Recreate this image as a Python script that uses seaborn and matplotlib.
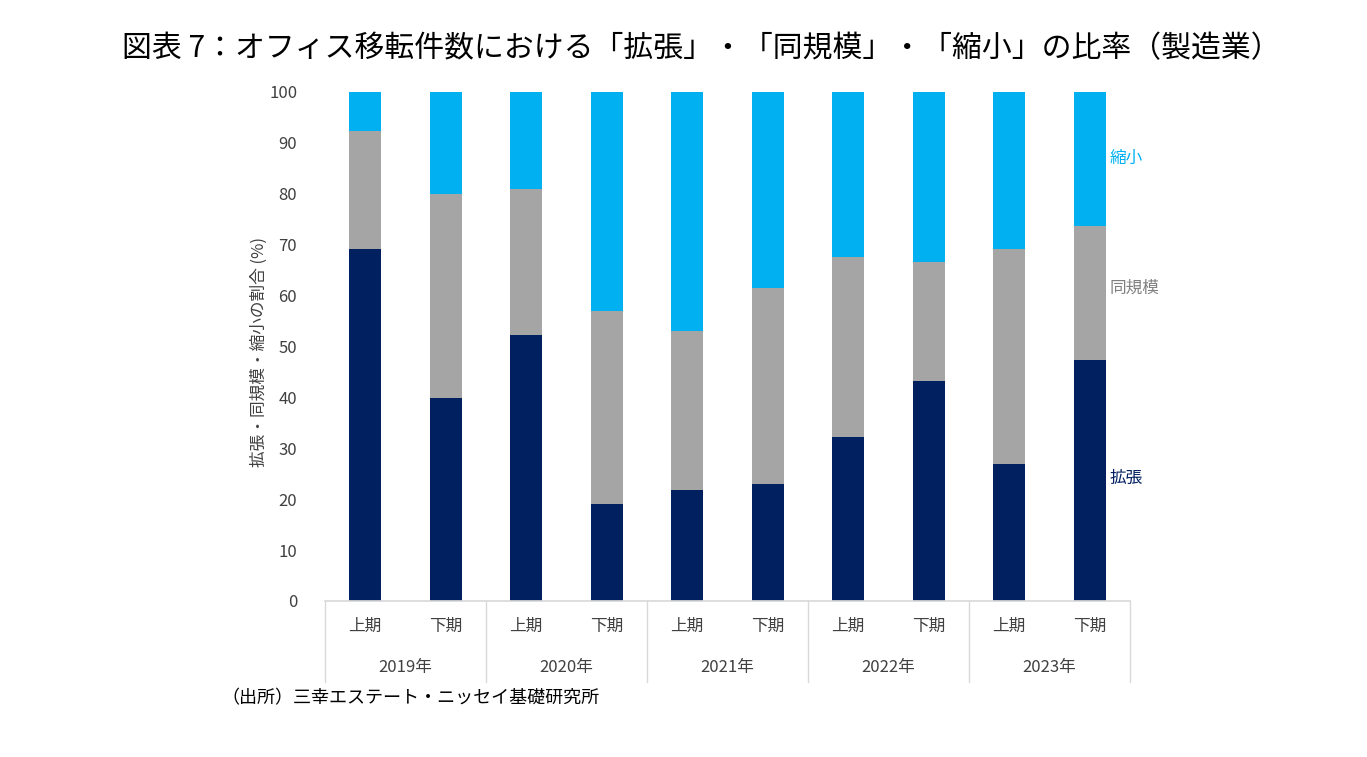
import numpy as np
import pandas as pd
import seaborn as sns
from matplotlib import pyplot as plt
import matplotlib.transforms as mtransforms

sns.set_theme(style='white')
plt.rcParams['font.family'] = ['Noto Sans CJK JP', 'DejaVu Sans']

# data (%)
years = ['2019年', '2020年', '2021年', '2022年', '2023年']
halves = ['上期', '下期']
expand = [69.2, 39.9, 52.3, 19.1, 21.8, 23.0, 32.2, 43.2, 26.9, 47.3]
same = [23.1, 40.1, 28.6, 37.9, 31.2, 38.5, 35.4, 23.4, 42.3, 26.4]
shrink = [7.7, 20.0, 19.1, 43.0, 47.0, 38.5, 32.4, 33.4, 30.8, 26.3]

c_exp, c_same, c_shr = '#002060', '#A5A5A5', '#00B0F0'

labels = [f'{y}{h}' for y in years for h in halves]
df = pd.DataFrame({'cat': labels, 'exp': expand, 'same': same, 'shr': shrink})
df['lvl2'] = df['exp'] + df['same']
df['lvl3'] = df['lvl2'] + df['shr']

fig = plt.figure(figsize=(13.67, 7.57), dpi=100)
ax = fig.add_axes([0.2377, 0.2061, 0.5889, 0.6724])

# stacked bars: draw cumulative totals back to front
for col, c in [('lvl3', c_shr), ('lvl2', c_same), ('exp', c_exp)]:
    sns.barplot(data=df, x='cat', y=col, color=c, width=0.4, saturation=1,
                linewidth=0, ax=ax)

ax.set_xlim(-0.5, 9.5)
ax.set_ylim(0, 100)
ax.set_yticks(range(0, 101, 10))
ax.tick_params(axis='y', labelsize=12, labelcolor='#404040', length=0, pad=20)
ax.set_xticks([])
ax.set_xlabel('')
ax.set_ylabel('拡張・同規模・縮小の割合 (%)', fontsize=12, color='#404040')
ax.yaxis.set_label_coords(-0.071, 0.49)
for s in ['top', 'right', 'left']:
    ax.spines[s].set_visible(False)
ax.spines['bottom'].set_color('#D9D9D9')

# two-level category axis
trans = mtransforms.blended_transform_factory(ax.transData, ax.transAxes)
for i, lab in enumerate(labels):
    ax.text(i, -0.05, lab[-2:], transform=trans, ha='center', va='center',
            fontsize=12, color='#404040')
for j, y in enumerate(years):
    ax.text(2 * j + 0.5, -0.13, y, transform=trans, ha='center', va='center',
            fontsize=12, color='#404040')
for k in range(6):
    ax.plot([2 * k - 0.5, 2 * k - 0.5], [0, -0.16], transform=trans,
            color='#D9D9D9', lw=1, clip_on=False)

# series labels at right
ax.text(9.25, 87, '縮小', color=c_shr, fontsize=12, va='center')
ax.text(9.25, 61.5, '同規模', color='#7F7F7F', fontsize=12, va='center')
ax.text(9.25, 24, '拡張', color=c_exp, fontsize=12, va='center')

fig.text(0.513, 0.936, '図表 7：オフィス移転件数における「拡張」・「同規模」・「縮小」の比率（製造業）',
         ha='center', va='center', fontsize=21.5, color='black')
fig.text(0.162, 0.078, '（出所）三幸エステート・ニッセイ基礎研究所', ha='left', va='center',
         fontsize=13, color='black')

plt.savefig('out.png', dpi=100)
